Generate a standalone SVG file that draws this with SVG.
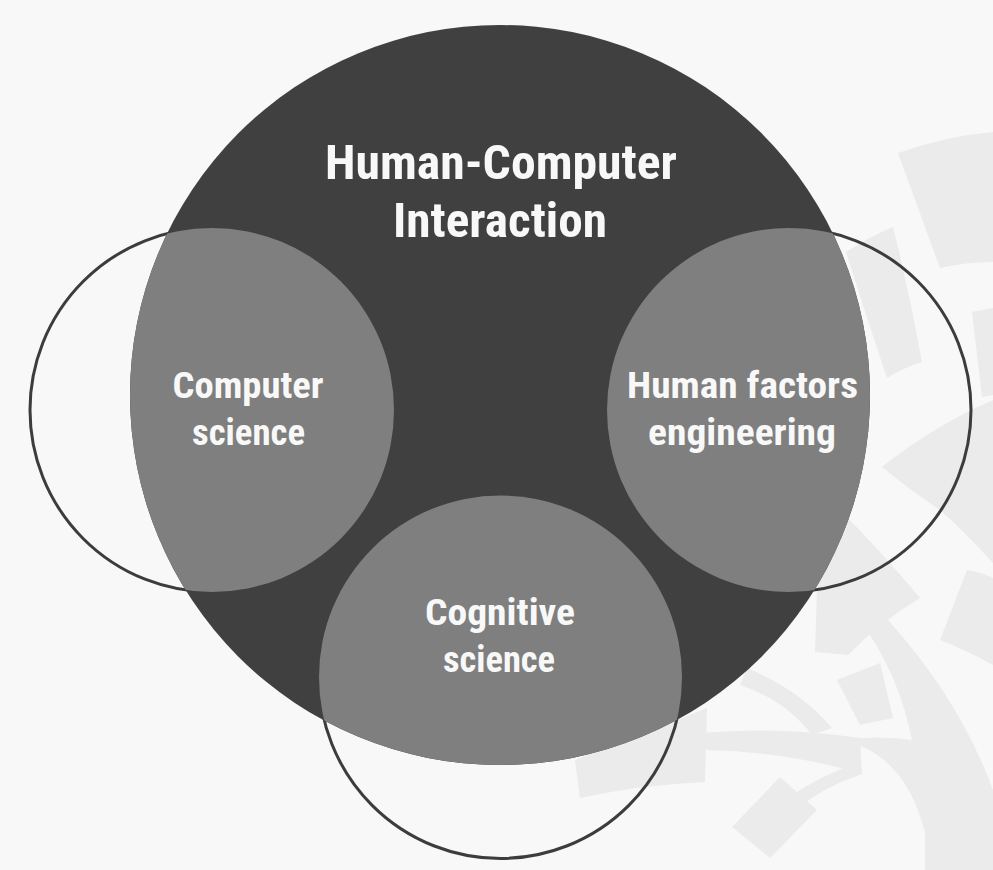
<svg xmlns="http://www.w3.org/2000/svg" width="993" height="870" viewBox="0 0 993 870">
  <style>
    .bg { fill: #f8f8f8; }
    .wm { fill: #ebebeb; stroke: none; }
    .hci { fill: #404040; }
    .ov { fill: #7f7f7f; }
    .ring { fill: none; stroke: #3c3c3c; stroke-width: 3; }
    .lbl { font-family: "Roboto Condensed", "Roboto", "Liberation Sans", sans-serif; font-weight: 700; fill: #f8f8f8; text-anchor: middle; }
    .t1 { font-size: 48px; }
    .t2 { font-size: 37px; }
  </style>
  <defs>
    <clipPath id="bigClip">
      <circle cx="500" cy="395" r="370"/>
    </clipPath>
  </defs>
  <rect class="bg" x="0" y="0" width="993" height="870"/>
  <g id="watermark">
    <path class="wm" d="M898,153 Q946,136 993,132 L993,262 Q966,262 940,268 Z"/>
    <path class="wm" d="M846,252 Q869,237 893,227 Q910,295 922,362 Q903,368 887,378 Q866,316 846,252 Z"/>
    <path class="wm" d="M972,312 L993,308 L993,395 L982,397 Z"/>
    <path class="wm" d="M882,467 Q935,425 993,400 L993,563 Q965,532 940,510 Q910,490 882,467 Z"/>
    <path class="wm" d="M835,505 Q880,550 920,598 Q880,622 848,655 L815,652 L818,560 Z"/>
    <path class="wm" d="M940,640 L967,570 Q980,572 993,578 L993,665 Q966,650 940,640 Z"/>
    <path class="wm" d="M837,680 L880,663 L893,718 L860,725 Z"/>
    <path class="wm" d="M575,760 Q640,735 707,708 L705,782 Q640,785 580,798 Z"/>
    <path class="wm" d="M732,827 L780,777 L817,810 L770,858 Z"/>
    <path class="wm" d="M700,733 Q780,726 860,738 L862,774 Q790,752 707,750 Z"/>
    <path class="wm" d="M747,668 Q800,690 832,728 L812,735 Q785,700 740,685 Z"/>
    <path class="wm" d="M785,800 Q820,775 860,762 L862,774 Q825,786 795,810 Z"/>
    <path class="wm" d="M840,740 Q905,752 925,833 L925,870 L993,870 L993,790 Q960,700 888,620 L868,632 Q900,680 912,740 Q880,735 840,740 Z"/>
  </g>
  <g id="connectors"></g>
  <g id="rings">
    <circle class="ring" cx="212" cy="410" r="182"/>
    <circle class="ring" cx="789" cy="410" r="182"/>
    <circle class="ring" cx="500.5" cy="677" r="181.5"/>
  </g>
  <g id="hci">
    <circle class="hci" cx="500" cy="395" r="370"/>
    <text class="lbl t1" x="501" y="179" textLength="352" lengthAdjust="spacingAndGlyphs">Human-Computer</text>
    <text class="lbl t1" x="500" y="237" textLength="214" lengthAdjust="spacingAndGlyphs">Interaction</text>
  </g>
  <g id="computer-science">
    <circle class="ov" cx="212" cy="410" r="182" clip-path="url(#bigClip)"/>
    <text class="lbl t2" x="248" y="398" textLength="151" lengthAdjust="spacingAndGlyphs">Computer</text>
    <text class="lbl t2" x="248.5" y="445" textLength="113" lengthAdjust="spacingAndGlyphs">science</text>
  </g>
  <g id="human-factors">
    <circle class="ov" cx="789" cy="410" r="182" clip-path="url(#bigClip)"/>
    <text class="lbl t2" x="742.5" y="398" textLength="231" lengthAdjust="spacingAndGlyphs">Human factors</text>
    <text class="lbl t2" x="742" y="445" textLength="188" lengthAdjust="spacingAndGlyphs">engineering</text>
  </g>
  <g id="cognitive-science">
    <circle class="ov" cx="500.5" cy="677" r="181.5" clip-path="url(#bigClip)"/>
    <text class="lbl t2" x="500" y="625" textLength="150" lengthAdjust="spacingAndGlyphs">Cognitive</text>
    <text class="lbl t2" x="499" y="672" textLength="112" lengthAdjust="spacingAndGlyphs">science</text>
  </g>
</svg>
